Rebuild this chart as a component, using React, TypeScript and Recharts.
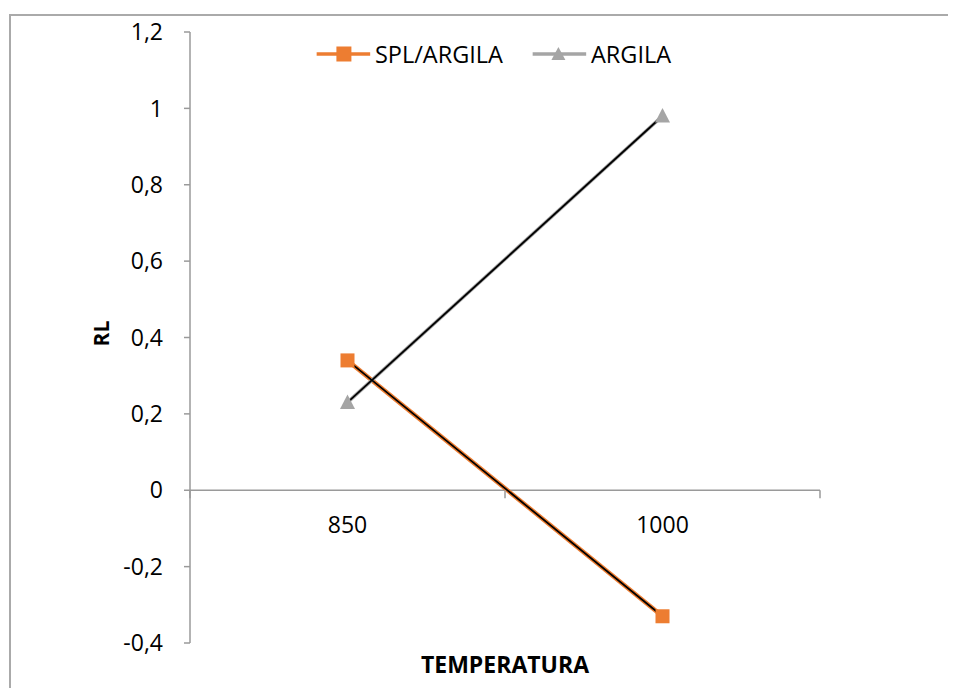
import React from 'react';
import { LineChart, Line, XAxis, YAxis, ReferenceLine, ReferenceDot } from 'recharts';

const categories = ['850', '1000'];
const splArgila = [0.34, -0.33];
const argila = [0.23, 0.98];
const yTicks = [-0.4, -0.2, 0, 0.2, 0.4, 0.6, 0.8, 1, 1.2];
const seriesNames = ['SPL/ARGILA', 'ARGILA'];
const xTitle = 'TEMPERATURA';
const yTitle = 'RL';

const ORANGE = '#ED7D31';
const GRAY = '#A5A5A5';
const AXIS = '#9a9a9a';
const FONT = "'Open Sans', sans-serif";

const data = categories.map((c, i) => ({ x: i + 0.5, cat: c, spl: splArgila[i], arg: argila[i] }));
const bandEdges = [...categories.map((_, i) => i), categories.length];

const SquareDot = (props: any) => {
  const { cx, cy } = props;
  if (cx == null || cy == null) return null;
  return <rect x={cx - 7} y={cy - 7} width={14} height={14} fill={ORANGE} />;
};

const TriangleDot = (props: any) => {
  const { cx, cy } = props;
  if (cx == null || cy == null) return null;
  return <path d={`M${cx},${cy - 8} L${cx + 7.5},${cy + 6.5} L${cx - 7.5},${cy + 6.5} Z`} fill={GRAY} />;
};

const fmt = (v: number) => String(Math.round(v * 10) / 10).replace('.', ',');

export default function App() {
  return (
    <div style={{ position: 'relative', width: 948, height: 680, overflow: 'hidden', background: '#fff' }}>
      <div
        style={{
          position: 'absolute',
          left: 1,
          top: 6,
          width: 1000,
          height: 1000,
          borderLeft: '2px solid #aaaaaa',
          borderTop: '2px solid #aaaaaa',
        }}
      />
      <div style={{ position: 'absolute', left: 0, top: 0 }}>
        <LineChart width={948} height={680} data={data} margin={{ top: 24, right: 136, bottom: 0, left: 0 }}>
          <XAxis
            dataKey="x"
            type="number"
            domain={[0, categories.length]}
            tick={false}
            tickLine={false}
            axisLine={false}
            height={45}
            label={(p: any) => {
              const vb = p.viewBox || {};
              return (
                <text
                  x={vb.x + vb.width / 2}
                  y={vb.y + 21}
                  textAnchor="middle"
                  dominantBaseline="central"
                  fontFamily={FONT}
                  fontWeight="bold"
                  fontSize={23}
                  fill="#000"
                >
                  {xTitle}
                </text>
              );
            }}
          />
          <YAxis
            type="number"
            domain={[-0.4, 1.2]}
            ticks={yTicks}
            tickFormatter={fmt}
            width={182}
            tickSize={6}
            tickMargin={21}
            stroke={AXIS}
            axisLine={{ stroke: AXIS, strokeWidth: 1.5 }}
            tickLine={{ stroke: AXIS, strokeWidth: 1.5 }}
            tick={{ fill: '#000', fontSize: 23, fontFamily: FONT }}
            label={(p: any) => {
              const vb = p.viewBox || {};
              const cx = vb.x + 93;
              const cy = vb.y + vb.height / 2 - 4;
              return (
                <text
                  x={cx}
                  y={cy}
                  transform={`rotate(-90 ${cx} ${cy})`}
                  textAnchor="middle"
                  dominantBaseline="central"
                  fontFamily={FONT}
                  fontWeight="bold"
                  fontSize={21}
                  fill="#000"
                >
                  {yTitle}
                </text>
              );
            }}
          />
          <ReferenceLine y={0} stroke={AXIS} strokeWidth={1.5} />
          {bandEdges.map((b) => (
            <ReferenceDot
              key={'t' + b}
              x={b}
              y={0}
              r={1}
              shape={(p: any) => (
                <line x1={p.cx} y1={p.cy} x2={p.cx} y2={p.cy + 8} stroke={AXIS} strokeWidth={1.5} />
              )}
            />
          ))}
          {data.map((d) => (
            <ReferenceDot
              key={'c' + d.cat}
              x={d.x}
              y={0}
              r={1}
              fill="none"
              stroke="none"
              label={(p: any) => {
                const vb = p.viewBox || {};
                return (
                  <text
                    x={vb.x + (vb.width || 0) / 2}
                    y={vb.y + (vb.height || 0) / 2 + 34}
                    textAnchor="middle"
                    dominantBaseline="central"
                    fontFamily={FONT}
                    fontSize={23}
                    fill="#000"
                  >
                    {d.cat}
                  </text>
                );
              }}
            />
          ))}
          <Line
            dataKey="spl"
            stroke={ORANGE}
            strokeWidth={4.5}
            dot={<SquareDot />}
            activeDot={false}
            isAnimationActive={false}
          />
          <Line
            dataKey="arg"
            stroke={GRAY}
            strokeWidth={3.5}
            dot={<TriangleDot />}
            activeDot={false}
            isAnimationActive={false}
          />
          <Line
            dataKey="spl"
            stroke="#000"
            strokeWidth={1.8}
            dot={false}
            activeDot={false}
            legendType="none"
            isAnimationActive={false}
          />
          <Line
            dataKey="arg"
            stroke="#000"
            strokeWidth={1.8}
            dot={false}
            activeDot={false}
            legendType="none"
            isAnimationActive={false}
          />
        </LineChart>
      </div>
      <div
        style={{
          position: 'absolute',
          left: 485.5,
          top: 34,
          transform: 'translateX(-50%)',
          display: 'flex',
          alignItems: 'center',
          whiteSpace: 'nowrap',
          fontFamily: FONT,
          fontSize: 23.5,
          lineHeight: '24px',
          color: '#000',
        }}
      >
        <svg width={54} height={24} style={{ display: 'block' }}>
          <line x1={0} y1={12} x2={54} y2={12} stroke={ORANGE} strokeWidth={3.5} />
          <rect x={20} y={4.5} width={15} height={15} fill={ORANGE} />
        </svg>
        <span style={{ marginLeft: 5 }}>{seriesNames[0]}</span>
        <svg width={54} height={24} style={{ display: 'block', marginLeft: 29 }}>
          <line x1={0} y1={12} x2={54} y2={12} stroke={GRAY} strokeWidth={3.5} />
          <path d="M26,5 L33,18 L19,18 Z" fill={GRAY} />
        </svg>
        <span style={{ marginLeft: 5 }}>{seriesNames[1]}</span>
      </div>
    </div>
  );
}
